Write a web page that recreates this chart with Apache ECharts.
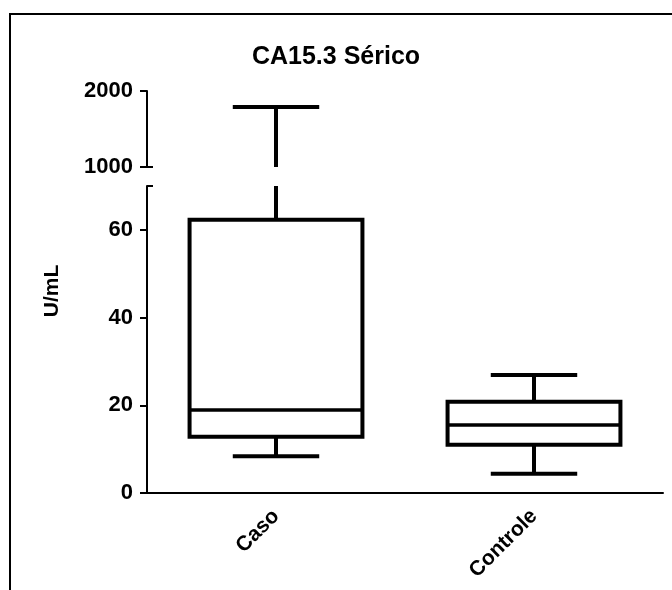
<!DOCTYPE html>
<html>
<head>
  <meta charset="UTF-8">
  <title>CA15.3 Sérico</title>
  <script src="https://cdn.jsdelivr.net/npm/echarts@6/dist/echarts.min.js"></script>
  <style>
    html, body { margin: 0; padding: 0; background: #fff; }
    #main { width: 672px; height: 590px; }
  </style>
</head>
<body>
<div id="main"></div>
<script>
  // valores (U/mL)
  const categories = ['Caso', 'Controle'];
  const mins = [8.4, 4.4];
  const q1s = [12.8, 11.0];
  const medians = [18.9, 15.5];
  const q3s = [62.3, 20.8];
  const maxs = [1789, 26.9];

  // eixo Y interrompido: segmento inferior e superior
  const lowerTicks = { min: 0, max: 70, interval: 20 };
  const upperTicks = { min: 1000, max: 2000, interval: 1000 };

  const boxData = categories.map(function (c, i) {
    return [i, mins[i], q1s[i], medians[i], q3s[i], maxs[i]];
  });

  const font = 'Liberation Sans, Arial, sans-serif';

  // desenha o boxplot recortado ao intervalo de cada segmento do eixo
  function renderBox(params, api) {
    const cs = params.coordSys;
    const top = cs.y, bottom = cs.y + cs.height;
    const clamp = function (y) { return Math.max(top, Math.min(bottom, y)); };
    const inside = function (y) { return y >= top - 0.5 && y <= bottom + 0.5; };
    const idx = api.value(0);
    const xc = api.coord([idx, 0])[0];
    const bw = api.size([1, 0])[0] * 0.67;
    const y = function (k) { return api.coord([idx, api.value(k)])[1]; };
    const yMin = y(1), yQ1 = y(2), yMed = y(3), yQ3 = y(4), yMax = y(5);
    const st = { stroke: '#000', lineWidth: 4, fill: 'none' };
    const children = [];

    // bigode superior
    const a = clamp(yMax), b = clamp(yQ3);
    if (b - a > 0.5) {
      children.push({ type: 'line', shape: { x1: xc, y1: a, x2: xc, y2: b }, style: st });
    }
    if (inside(yMax)) {
      children.push({ type: 'line', shape: { x1: xc - bw / 4, y1: yMax, x2: xc + bw / 4, y2: yMax }, style: st });
    }
    // bigode inferior
    const c = clamp(yQ1), d = clamp(yMin);
    if (d - c > 0.5) {
      children.push({ type: 'line', shape: { x1: xc, y1: c, x2: xc, y2: d }, style: st });
    }
    if (inside(yMin)) {
      children.push({ type: 'line', shape: { x1: xc - bw / 4, y1: yMin, x2: xc + bw / 4, y2: yMin }, style: st });
    }
    // caixa + mediana
    if (inside(yQ3) && inside(yQ1)) {
      children.push({ type: 'rect', shape: { x: xc - bw / 2, y: yQ3, width: bw, height: yQ1 - yQ3 }, style: { stroke: '#000', lineWidth: 4, fill: '#fff' } });
      children.push({ type: 'line', shape: { x1: xc - bw / 2, y1: yMed, x2: xc + bw / 2, y2: yMed }, style: { stroke: '#000', lineWidth: 3.5 } });
    }
    return { type: 'group', children: children };
  }

  const yAxisCommon = {
    type: 'value',
    splitLine: { show: false },
    axisLine: { show: true, lineStyle: { color: '#000', width: 2 } },
    axisTick: { show: true, length: 7, lineStyle: { color: '#000', width: 2 } },
    axisLabel: {
      color: '#000', fontFamily: font, fontWeight: 'bold', fontSize: 22, margin: 14,
      formatter: function (v) { return String(v); }
    }
  };

  // marcas da quebra (tick para dentro)
  const breakAxis = {
    type: 'value',
    position: 'left',
    splitLine: { show: false },
    axisLine: { show: false },
    axisLabel: { show: false },
    axisTick: { show: true, inside: true, length: 6, lineStyle: { color: '#000', width: 2 } }
  };

  const chart = echarts.init(document.getElementById('main'), null, { renderer: 'canvas' });
  chart.setOption({
    animation: false,
    backgroundColor: '#fff',
    title: {
      text: 'CA15.3 Sérico',
      left: 'center',
      top: 40,
      textStyle: { color: '#000', fontFamily: font, fontWeight: 'bold', fontSize: 25 }
    },
    grid: [
      { left: 147, right: 9, top: 91, height: 76 },
      { left: 147, right: 9, top: 186, bottom: 97 }
    ],
    xAxis: [
      { type: 'category', gridIndex: 0, data: categories, show: false },
      {
        type: 'category', gridIndex: 1, data: categories,
        axisLine: { lineStyle: { color: '#000', width: 2 } },
        axisTick: { alignWithLabel: true, length: 7, lineStyle: { color: '#000', width: 3 } },
        axisLabel: { color: '#000', fontFamily: font, fontWeight: 'bold', fontSize: 21, rotate: 45, margin: 20 }
      }
    ],
    yAxis: [
      Object.assign({}, yAxisCommon, { gridIndex: 0, min: upperTicks.min, max: upperTicks.max, interval: upperTicks.interval }),
      Object.assign({}, yAxisCommon, { gridIndex: 1, min: lowerTicks.min, max: lowerTicks.max, interval: lowerTicks.interval,
        axisLabel: Object.assign({}, yAxisCommon.axisLabel, { showMaxLabel: false }) }),
      Object.assign({}, breakAxis, { gridIndex: 0, min: upperTicks.min, max: upperTicks.max,
        axisTick: Object.assign({}, breakAxis.axisTick, { customValues: [upperTicks.min] }) }),
      Object.assign({}, breakAxis, { gridIndex: 1, min: lowerTicks.min, max: lowerTicks.max,
        axisTick: Object.assign({}, breakAxis.axisTick, { customValues: [lowerTicks.max] }) })
    ],
    graphic: [
      { type: 'rect', shape: { x: 10, y: 14, width: 700, height: 620 }, style: { stroke: '#000', lineWidth: 2, fill: 'none' }, silent: true },
      { type: 'text', x: 52, y: 291, rotation: Math.PI / 2, style: { text: 'U/mL', fill: '#000', font: 'bold 21px ' + font, align: 'center', verticalAlign: 'middle' } }
    ],
    series: [
      { type: 'custom', xAxisIndex: 0, yAxisIndex: 0, renderItem: renderBox, encode: { x: 0, y: [1, 2, 3, 4, 5] }, data: boxData },
      { type: 'custom', xAxisIndex: 1, yAxisIndex: 1, renderItem: renderBox, encode: { x: 0, y: [1, 2, 3, 4, 5] }, data: boxData }
    ]
  });

  window.addEventListener('resize', function () {
    chart.resize();
  });
</script>
</body>
</html>
